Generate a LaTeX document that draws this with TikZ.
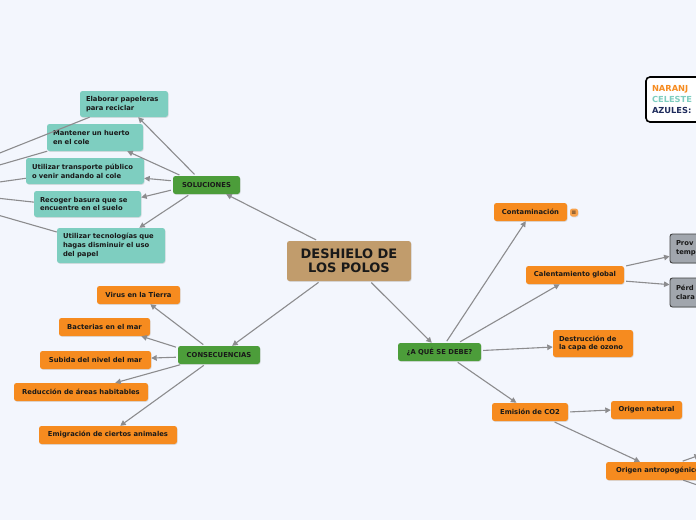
\documentclass[tikz,border=0pt]{standalone}
\usepackage{fontspec}
\setmainfont{DejaVu Sans}
\usetikzlibrary{arrows.meta,shadows}

\definecolor{fondo}{HTML}{F3F6FD}
\definecolor{cNaranja}{HTML}{F68B1F}
\definecolor{cCeleste}{HTML}{7ECEC0}
\definecolor{cVerde}{HTML}{4C9D3A}
\definecolor{cCafe}{HTML}{C19C6C}
\definecolor{cGris}{HTML}{A1A6AD}
\definecolor{cLinea}{HTML}{8C8C8E}
\definecolor{cAzul}{HTML}{1F2C5C}

\tikzset{
  caja/.style={rounded corners=2.5pt, inner xsep=6pt, inner ysep=0pt, text=black!90,
    font=\bfseries\fontsize{6.8}{8.8}\selectfont,
    drop shadow={shadow xshift=0.6pt, shadow yshift=-0.8pt, opacity=0.22}},
  tema/.style={caja, fill=cCafe, align=center, minimum width=124pt, minimum height=40pt,
    font=\bfseries\fontsize{13}{14.5}\selectfont},
  rama/.style={caja, fill=cVerde, minimum height=18pt},
  idea/.style={caja, fill=cCeleste, align=left},
  hecho/.style={caja, fill=cNaranja, minimum height=18pt},
  nota/.style={caja, fill=cGris, draw=black!75, line width=0.9pt, align=left},
  flecha/.style={draw=cLinea, line width=1.1pt, shorten <=2pt,
    -{Triangle[length=5.5pt,width=5.5pt]}},
  linea/.style={draw=cLinea, line width=1.1pt}
}

\begin{document}
\begin{tikzpicture}[x=1pt,y=-1pt]
\useasboundingbox (0,0) rectangle (696,520);
\clip (0,0) rectangle (696,520);
\fill [fondo] (0,0) rectangle (696,520);

% extremos fuera del cuadro
\coordinate (fuera1) at (-4,154.5);
\coordinate (fuera2) at (-4,166);
\coordinate (fuera3) at (-4,182.5);
\coordinate (fuera4) at (-4,198);
\coordinate (fuera5) at (-4,214.5);
\coordinate (fuera6) at (700,455);
\coordinate (fuera7) at (712,490);

% centro y ramas
\path (349,261) node [tema] (polos) {DESHIELO DE\\LOS POLOS}
      (206.5,185) node [rama, minimum width=67pt] (sol) {SOLUCIONES}
      (219,355) node [rama, minimum width=82pt] (cons) {CONSECUENCIAS}
      (439.5,352) node [rama, minimum width=83pt] (causa) {¿A QUÉ SE DEBE?}
      ;

% soluciones
\path (124,104) node [idea, text width=76pt, minimum height=26pt] (papel) {Elaborar papeleras\\para reciclar}
      (95,137.5) node [idea, text width=84pt, minimum height=27pt] (huerto) {Mantener un huerto\\en el cole}
      (85,171) node [idea, text width=106pt, minimum height=26pt] (transp) {Utilizar transporte público\\o venir andando al cole}
      (87.5,204) node [idea, text width=95pt, minimum height=26pt] (basura) {Recoger basura que se\\encuentre en el suelo}
      (111,245.5) node [idea, text width=96pt, minimum height=35pt] (tecno) {Utilizar tecnologías que\\hagas disminuir el uso\\del papel}
      ;

% consecuencias
\path (138.5,295) node [hecho, minimum width=83pt] (virus) {Virus en la Tierra}
      (104.5,327) node [hecho, minimum width=91pt] (bact) {Bacterias en el mar}
      (95.5,360) node [hecho, minimum width=111pt] (nivel) {Subida del nivel del mar}
      (81,392) node [hecho, minimum width=134pt] (areas) {Reducción de áreas habitables}
      (108,435) node [hecho, minimum width=138pt] (emig) {Emigración de ciertos animales}
      ;

% causas
\path (530.5,212) node [hecho, minimum width=73pt] (conta) {Contaminación}
      (574,212.5) node [caja, fill=cNaranja!80, inner sep=0pt, minimum size=8pt,
                        font=\fontsize{6}{6}\selectfont] (notas) {≡}
      (575,275) node [hecho, minimum width=98pt] (calor) {Calentamiento global}
      (593,343.5) node [hecho, text width=68pt, align=left, minimum height=27pt] (ozono) {Destrucción de\\la capa de ozono}
      (530,412) node [hecho, minimum width=76pt] (co2) {Emisión de CO2}
      (646.5,410) node [hecho, minimum width=71pt] (natural) {Origen natural}
      (658,471) node [hecho, minimum width=104pt] (antrop) {Origen antropogénico}
      (710,248.5) node [nota, text width=68pt, minimum height=29pt] (temp) {Prov\\temp}
      (710,292.5) node [nota, text width=68pt, minimum height=29pt] (clara) {Pérd\\clara}
      (690,99.5) node [caja, fill=white, draw=black, line width=1.6pt, align=left,
                       text width=76pt, minimum height=45pt, rounded corners=4pt,
                       font=\bfseries\fontsize{8.3}{11}\selectfont] (leyenda)
            {\textcolor{cNaranja}{NARANJ}\\\textcolor{cCeleste}{CELESTE}\\\textcolor{cAzul}{AZULES:}}
      ;

\draw [flecha] (node cs:name=polos, angle=147) -- (node cs:name=sol, angle=335);
\draw [flecha] (node cs:name=polos, angle=215) -- (node cs:name=cons, angle=35);
\draw [flecha] (node cs:name=polos, angle=316) -- (node cs:name=causa, angle=130);

\draw [flecha] (node cs:name=sol, angle=139) -- (node cs:name=papel, angle=317);
\draw [flecha] (node cs:name=sol, angle=160) -- (node cs:name=huerto, angle=337);
\draw [flecha] (node cs:name=sol, angle=173) -- (node cs:name=transp, angle=353);
\draw [flecha] (node cs:name=sol, angle=188) -- (node cs:name=basura, angle=7.5);
\draw [flecha] (node cs:name=sol, angle=209) -- (node cs:name=tecno, angle=32);

\draw [flecha] (node cs:name=cons, angle=147) -- (node cs:name=virus, angle=322);
\draw [flecha] (node cs:name=cons, angle=170) -- (node cs:name=bact, angle=346);
\draw [flecha] (node cs:name=cons, angle=183) -- (node cs:name=nivel, angle=2);
\draw [flecha] (node cs:name=cons, angle=194) -- (node cs:name=areas, angle=15);
\draw [flecha] (node cs:name=cons, angle=214) -- (node cs:name=emig, angle=37);

\draw [flecha] (node cs:name=causa, angle=56) -- (node cs:name=conta, angle=243);
\draw [flecha] (node cs:name=causa, angle=26) -- (node cs:name=calor, angle=211);
\draw [flecha] (node cs:name=causa, angle=2.5) -- (node cs:name=ozono, angle=185);
\draw [flecha] (node cs:name=causa, angle=331) -- (node cs:name=co2, angle=146);
\draw [flecha] (node cs:name=co2, angle=0) -- (node cs:name=natural, angle=180);
\draw [flecha] (node cs:name=co2, angle=338) -- (node cs:name=antrop, angle=153);
\draw [flecha] (node cs:name=calor, angle=10) -- (node cs:name=temp, angle=191);
\draw [flecha] (node cs:name=calor, angle=353) -- (node cs:name=clara, angle=169);
\draw [flecha] (node cs:name=antrop, angle=22) -- (fuera6);
\draw [linea] (node cs:name=antrop, angle=340) -- (fuera7);

\draw [linea] (node cs:name=papel, angle=201) -- (fuera1);
\draw [linea] (node cs:name=huerto, angle=196) -- (fuera2);
\draw [linea] (node cs:name=transp, angle=187) -- (fuera3);
\draw [linea] (node cs:name=basura, angle=178) -- (fuera4);
\draw [linea] (node cs:name=tecno, angle=166) -- (fuera5);
\end{tikzpicture}
\end{document}
